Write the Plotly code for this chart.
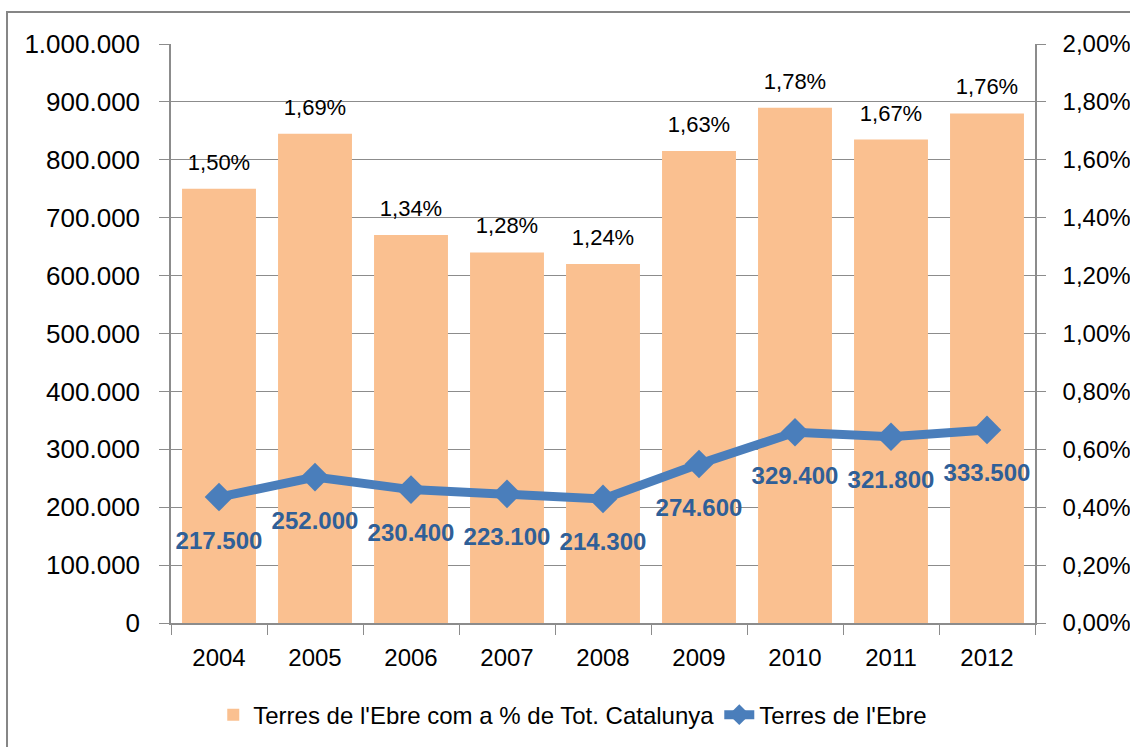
import plotly.graph_objects as go

years = ["2004", "2005", "2006", "2007", "2008", "2009", "2010", "2011", "2012"]
pct_catalunya = [0.0150, 0.0169, 0.0134, 0.0128, 0.0124, 0.0163, 0.0178, 0.0167, 0.0176]
terres_ebre = [217500, 252000, 230400, 223100, 214300, 274600, 329400, 321800, 333500]

FONT = "Liberation Sans"
GRID = "#8c8c8c"

fig = go.Figure()
fig.add_trace(go.Bar(
    x=years, y=pct_catalunya, name="Terres de l'Ebre com a % de Tot. Catalunya",
    marker=dict(color="#FAC090", line=dict(width=0)),
    yaxis="y",
))
# bar value labels (placed above bars with a little extra gap)
fig.add_trace(go.Scatter(
    x=years, y=pct_catalunya, mode="markers+text", showlegend=False, hoverinfo="skip",
    marker=dict(size=20, opacity=0),
    texttemplate="%{y:.2%}", textposition="top center", cliponaxis=False,
    textfont=dict(family=FONT, size=22, color="#000000"),
    yaxis="y",
))
fig.add_trace(go.Scatter(
    x=years, y=terres_ebre, name="Terres de l'Ebre", mode="lines+markers",
    line=dict(color="#4A7EBB", width=9),
    marker=dict(symbol="diamond", size=22, color="#4A7EBB"),
    cliponaxis=False,
    yaxis="y2",
))
# line value labels
fig.add_trace(go.Scatter(
    x=years, y=terres_ebre, mode="markers+text", showlegend=False, hoverinfo="skip",
    marker=dict(size=52, opacity=0),
    texttemplate="%{y:,d}", textposition="bottom center", cliponaxis=False,
    textfont=dict(family=FONT, size=24, color="#2F5F98", weight="bold"),
    yaxis="y2",
))

fig.update_layout(
    width=1130, height=747,
    margin=dict(l=171, r=95, t=44, b=124, autoexpand=False),
    paper_bgcolor="white", plot_bgcolor="white",
    separators=",.",
    bargap=0.23,
    showlegend=True,
    font=dict(family=FONT, color="#000000"),
    xaxis=dict(
        type="category", range=[-0.5, len(years) - 0.5], autorange=False,
        showline=True, linecolor=GRID, linewidth=1.5,
        ticks="outside", ticklen=10, tickcolor=GRID, tickson="boundaries",
        tickfont=dict(family=FONT, size=24, color="#000000"),
        ticklabelstandoff=12,
        showgrid=False, automargin=False,
    ),
    yaxis=dict(
        side="right", range=[0, 0.02], dtick=0.002, tickformat=".2%",
        showgrid=True, gridcolor=GRID, gridwidth=1.2,
        showline=True, linecolor=GRID, linewidth=1.5,
        ticks="outside", ticklen=9, tickcolor=GRID,
        tickfont=dict(family=FONT, size=24, color="#000000"),
        ticklabelstandoff=12,
        zeroline=False, automargin=False,
    ),
    yaxis2=dict(
        side="left", overlaying="y", range=[0, 1000000], dtick=100000, tickformat=",d",
        showgrid=False, showline=True, linecolor=GRID, linewidth=1.5,
        ticks="outside", ticklen=10, tickcolor=GRID,
        tickfont=dict(family=FONT, size=26, color="#000000"),
        ticklabelstandoff=14,
        zeroline=False, automargin=False,
    ),
    legend=dict(
        orientation="h", x=0.465, xanchor="center", y=-0.159, yanchor="middle",
        font=dict(family=FONT, size=24, color="#000000"),
        bgcolor="rgba(0,0,0,0)",
    ),
    shapes=[dict(
        type="rect", xref="paper", yref="paper",
        x0=-0.1898, x1=1.12, y0=-0.23, y1=1.0553,
        line=dict(color="#868686", width=2), fillcolor="rgba(0,0,0,0)", layer="below",
    )],
)

fig.write_html(
    "out.html",
    config={"displayModeBar": False},
    post_script="document.body.style.margin='0';document.body.style.overflow='hidden';",
)
